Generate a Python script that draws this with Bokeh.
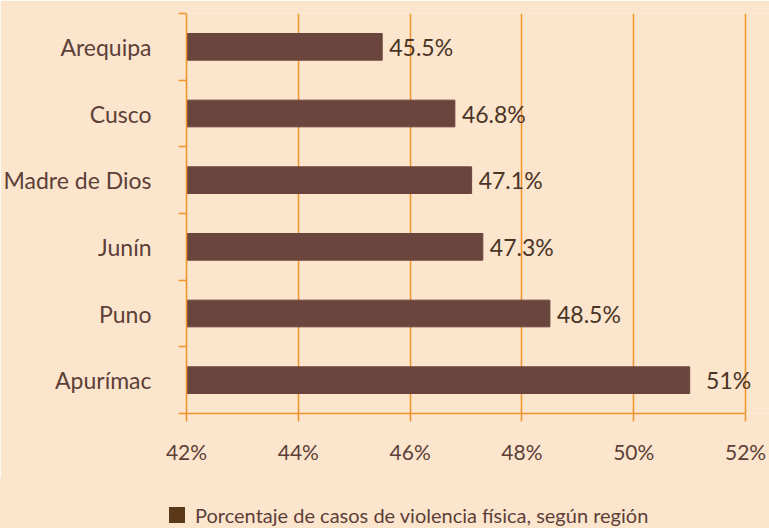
from bokeh.plotting import figure
from bokeh.layouts import column
from bokeh.models import FixedTicker, PrintfTickFormatter, ColumnDataSource, Range1d, Div
from bokeh.core.properties import value
from bokeh.embed import file_html
from bokeh.resources import INLINE

regions = ["Arequipa", "Cusco", "Madre de Dios", "Junín", "Puno", "Apurímac"]
percent = [45.5, 46.8, 47.1, 47.3, 48.5, 51.0]
value_labels = ["45.5%", "46.8%", "47.1%", "47.3%", "48.5%", "51%"]
x_ticks = [42, 44, 46, 48, 50, 52]
legend_label = "Porcentaje de casos de violencia física, según región"

BG = "#FCE5CD"
BAR = "#6A453D"
ORANGE = "#F2922A"
TXT = "#5C4038"
SWATCH = "#5A3818"
FONT = "Lato"
W = 769
H_MAIN, H_LEG = 478, 50
LEFT, TOP, BOTTOM = 184, 13, 65
PX_PER_UNIT = 56.1   # 42% -> x=184, 52% -> x=745

n = len(regions)
ypos = [n - i - 0.5 for i in range(n)]
src = ColumnDataSource(dict(y=ypos, right=percent, left=[x_ticks[0]] * n, lab=value_labels))

x_end = x_ticks[-1] + (W - LEFT - (x_ticks[-1] - x_ticks[0]) * PX_PER_UNIT) / PX_PER_UNIT
p = figure(width=W, height=H_MAIN, output_backend="svg", toolbar_location=None,
           x_range=Range1d(x_ticks[0], x_end), y_range=Range1d(0, n),
           min_border_left=LEFT, min_border_right=0, min_border_top=TOP, min_border_bottom=BOTTOM)
p.background_fill_color = BG
p.border_fill_color = BG
p.outline_line_color = None

p.hbar(y="y", left="left", right="right", height=0.4, source=src, color=BAR)
p.text(x="right", y="y", text="lab", source=src, x_offset=39, text_align="center",
       text_baseline="middle", text_font=value(FONT), text_font_size="23px", text_color="#4A3426")

# x axis
p.xaxis.bounds = (x_ticks[0], x_ticks[-1])
p.xaxis.ticker = FixedTicker(ticks=x_ticks)
p.xaxis.formatter = PrintfTickFormatter(format="%d%%")
p.xaxis.axis_line_color = ORANGE
p.xaxis.axis_line_width = 1.5
p.xaxis.major_tick_line_color = ORANGE
p.xaxis.major_tick_line_width = 1.5
p.xaxis.major_tick_in = 0
p.xaxis.major_tick_out = 8
p.xaxis.minor_tick_line_color = None
p.xaxis.major_label_standoff = 17
p.xaxis.major_label_text_font = FONT
p.xaxis.major_label_text_font_size = "21px"
p.xaxis.major_label_text_color = TXT

# y axis: labels at centres, ticks at boundaries
p.yaxis.ticker = FixedTicker(ticks=ypos, minor_ticks=list(range(n + 1)))
p.yaxis.major_label_overrides = {y: r for y, r in zip(ypos, regions)}
p.yaxis.axis_line_color = ORANGE
p.yaxis.axis_line_width = 1.5
p.yaxis.major_tick_line_color = None
p.yaxis.minor_tick_line_color = ORANGE
p.yaxis.minor_tick_line_width = 1.5
p.yaxis.minor_tick_in = 0
p.yaxis.minor_tick_out = 8
p.yaxis.major_label_standoff = 27
p.yaxis.major_label_text_font = FONT
p.yaxis.major_label_text_font_size = "23px"
p.yaxis.major_label_text_color = TXT

p.xgrid.ticker = FixedTicker(ticks=x_ticks)
p.xgrid.grid_line_color = ORANGE
p.xgrid.grid_line_width = 1.5
p.ygrid.grid_line_color = None

# legend strip below the chart
legend_html = (
    f'<div style="position:relative;width:{W}px;height:{H_LEG}px;background:{BG};">'
    f'<span style="position:absolute;left:169px;top:29px;width:16px;height:16px;'
    f'background:{SWATCH};"></span>'
    f'<span style="position:absolute;left:195px;top:25px;font-family:{FONT};font-size:20px;'
    f'line-height:24px;color:{TXT};white-space:nowrap;">{legend_label}</span></div>'
)
leg = Div(text=legend_html, width=W, height=H_LEG, margin=0,
          styles={"background-color": BG})

layout = column(p, leg, spacing=0)
open("out.html", "w").write(file_html(layout, INLINE))
